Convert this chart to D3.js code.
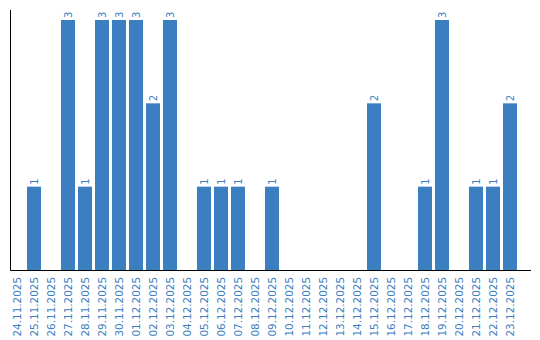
<!DOCTYPE html>
<html><head><meta charset="utf-8">
<script src="https://cdn.jsdelivr.net/npm/d3@7"></script>
<style>body{margin:0;background:#fff}svg{display:block}text{font-family:"DejaVu Sans",sans-serif}</style>
</head><body>
<svg id="c" width="540" height="340"></svg>
<script>
const categories = ["24.11.2025","25.11.2025","26.11.2025","27.11.2025","28.11.2025","29.11.2025","30.11.2025","01.12.2025","02.12.2025","03.12.2025","04.12.2025","05.12.2025","06.12.2025","07.12.2025","08.12.2025","09.12.2025","10.12.2025","11.12.2025","12.12.2025","13.12.2025","14.12.2025","15.12.2025","16.12.2025","17.12.2025","18.12.2025","19.12.2025","20.12.2025","21.12.2025","22.12.2025","23.12.2025"];
const values = [0,1,0,3,1,3,3,3,2,3,0,1,1,1,0,1,0,0,0,0,0,2,0,0,1,3,0,1,1,2];
const color = "#3b7fc1";
const svg = d3.select("#c");
const x = d3.scaleBand().domain(categories).range([10, 517]).paddingInner(3/17).paddingOuter(0);
const y = d3.scaleLinear().domain([0, 3.12]).range([270, 10]);
const data = categories.map((c,i)=>({c, v: values[i]}));
svg.selectAll("rect.bar").data(data.filter(d=>d.v>0)).join("rect")
  .attr("class","bar").attr("x", d=>x(d.c)).attr("width", x.bandwidth())
  .attr("y", d=>y(d.v)).attr("height", d=>y(0)-y(d.v)).attr("fill", color);
svg.selectAll("text.val").data(data.filter(d=>d.v>0)).join("text")
  .attr("class","val")
  .attr("transform", d=>`translate(${x(d.c)+x.bandwidth()/2},${y(d.v)-2}) rotate(-90)`)
  .attr("dy","0.35em").attr("text-anchor","start")
  .attr("font-size",10).attr("fill",color).text(d=>d.v);
// axes
const xAxis = svg.append("g").attr("transform","translate(0,270)")
  .call(d3.axisBottom(x).tickSize(0).tickPadding(0));
xAxis.select(".domain").attr("d","M10.5,0.5H531").attr("stroke","#000");
xAxis.selectAll(".tick text")
  .attr("transform","translate(0,7) rotate(-90)")
  .attr("text-anchor","end").attr("x",0).attr("y",0).attr("dy","0.35em")
  .attr("font-size",10.4).attr("font-family","DejaVu Sans").attr("fill",color);
const yAxis = svg.append("g").attr("transform","translate(10.5,0)")
  .call(d3.axisLeft(y).tickValues([]).tickSize(0));
yAxis.select(".domain").attr("d","M0,10V270.5").attr("stroke","#000");
</script>
</body></html>
